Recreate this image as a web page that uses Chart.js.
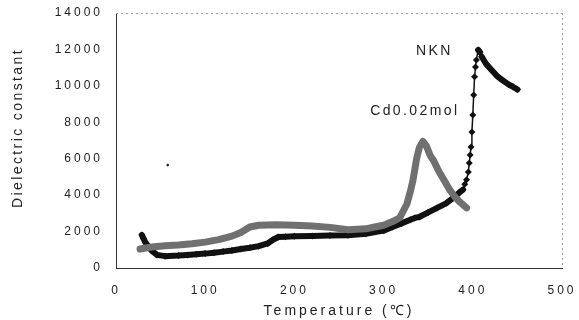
<!DOCTYPE html>
<html><head><meta charset="utf-8">
<script src="https://cdn.jsdelivr.net/npm/chart.js@4.4.0/dist/chart.umd.min.js"></script>
<style>html,body{margin:0;padding:0;background:#fff;}#wrap{width:579px;height:320px;}</style>
</head><body><div id="wrap"><canvas id="c" width="579" height="320"></canvas></div>
<script>
// ---- data ----
const nknTemp  = [29, 31, 33, 36, 40, 46, 55, 70, 80, 90, 100, 110, 120, 130, 140, 150, 160, 170, 176, 182, 190, 200, 220, 240, 260, 280, 300, 310, 320, 330, 335, 340, 350, 360, 370, 378, 385, 389, 391, 393, 395, 396, 397, 398, 399, 400, 401, 402, 403, 404, 406, 408, 410, 415, 421, 427, 433, 440, 445, 450];
const nknValue = [1810, 1600, 1400, 1200, 950, 720, 650, 680, 720, 760, 790, 840, 900, 960, 1040, 1110, 1200, 1350, 1550, 1700, 1720, 1740, 1760, 1780, 1800, 1880, 2050, 2250, 2450, 2650, 2750, 2800, 3050, 3300, 3550, 3850, 4150, 4300, 4600, 4850, 5270, 5760, 6200, 6650, 7470, 8400, 9500, 10500, 11040, 11420, 11970, 11850, 11600, 11200, 10870, 10550, 10320, 10080, 9950, 9800];
const cdTemp   = [27, 40, 55, 70, 85, 100, 115, 130, 140, 150, 160, 180, 200, 220, 240, 260, 280, 290, 300, 310, 318, 326, 330, 333, 337, 340, 344, 348, 352, 356, 362, 368, 374, 380, 386, 393];
const cdValue  = [1040, 1150, 1220, 1260, 1330, 1420, 1560, 1750, 1950, 2250, 2350, 2370, 2350, 2300, 2230, 2100, 2150, 2250, 2350, 2550, 2750, 3500, 4200, 4830, 6000, 6600, 6950, 6700, 6200, 5900, 5300, 4800, 4300, 3900, 3600, 3300];
const strayTemp  = [58];
const strayValue = [5650];
const xTicks = [0, 100, 200, 300, 400, 500];
const yTicks = [0, 2000, 4000, 6000, 8000, 10000, 12000, 14000];
const seriesLabels = ['NKN', 'Cd0.02mol'];
const xTitle = 'Temperature (\u2103)';
const yTitle = 'Dielectric constant';

const toPts = (xs, ys) => xs.map((x, i) => ({x: x, y: ys[i]}));
const FONT = "'Liberation Sans', Arial, sans-serif";

const stylePlugin = {
  id: 'style',
  beforeDraw(chart) { chart.ctx.letterSpacing = '3px'; },
  afterDraw(chart) {
    const ctx = chart.ctx, a = chart.chartArea;
    ctx.save();
    ctx.strokeStyle = '#9a9a9a'; ctx.lineWidth = 1; ctx.setLineDash([2, 3]);
    ctx.beginPath();
    ctx.moveTo(a.left, a.top + 0.5); ctx.lineTo(a.right, a.top + 0.5);
    ctx.moveTo(a.right + 0.5, a.top); ctx.lineTo(a.right + 0.5, a.bottom);
    ctx.stroke();
    ctx.setLineDash([]);
    ctx.letterSpacing = '2.4px';
    ctx.fillStyle = '#222';
    ctx.font = '14px ' + FONT;
    ctx.textAlign = 'center'; ctx.textBaseline = 'middle';
    ctx.translate(18, 128); ctx.rotate(-Math.PI / 2);
    ctx.fillText(yTitle, 0, 0);
    ctx.restore();
    ctx.save();
    ctx.letterSpacing = '2.4px';
    ctx.fillStyle = '#222';
    ctx.font = '14px ' + FONT;
    ctx.textAlign = 'center'; ctx.textBaseline = 'middle';
    const xs = chart.scales.x, ys = chart.scales.y;
    ctx.fillText(seriesLabels[0], xs.getPixelForValue(357), ys.getPixelForValue(11900));
    ctx.fillText(seriesLabels[1], xs.getPixelForValue(335), ys.getPixelForValue(8600));
    ctx.restore();
  }
};

new Chart(document.getElementById('c'), {
  type: 'scatter',
  data: {
    datasets: [
      {
        label: seriesLabels[1],
        data: toPts(cdTemp, cdValue),
        showLine: true,
        borderColor: '#707070',
        borderWidth: 7,
        pointRadius: 0,
        borderCapStyle: 'round',
        borderJoinStyle: 'round',
        tension: 0
      },
      {
        label: seriesLabels[0],
        data: toPts(nknTemp, nknValue),
        showLine: true,
        borderColor: '#111',
        backgroundColor: '#111',
        pointStyle: 'rectRot',
        pointRadius: 3.5,
        pointBorderWidth: 0,
        borderCapStyle: 'round',
        borderJoinStyle: 'round',
        segment: {
          borderWidth: ctx => {
            const dy = Math.abs(ctx.p1.parsed.y - ctx.p0.parsed.y);
            const dx = Math.abs(ctx.p1.parsed.x - ctx.p0.parsed.x) || 1;
            return dy / dx > 120 ? 1.5 : 6;
          }
        },
        tension: 0
      },
      {
        label: 'dot',
        data: toPts(strayTemp, strayValue),
        showLine: false,
        pointRadius: 1.3,
        backgroundColor: '#222',
        borderWidth: 0
      }
    ]
  },
  options: {
    responsive: false,
    animation: false,
    devicePixelRatio: 1,
    layout: { padding: { top: 13, right: 17, left: 0, bottom: 0 } },
    plugins: { legend: { display: false }, tooltip: { enabled: false } },
    scales: {
      x: {
        type: 'linear', min: 0, max: 500,
        afterBuildTicks: s => { s.ticks = xTicks.map(v => ({value: v})); },
        afterFit: s => { s.height = 52; s.paddingLeft = 0; s.paddingRight = 0; },
        grid: { display: false, drawTicks: false },
        border: { display: true, color: '#333', width: 1 },
        ticks: { color: '#222', font: { family: FONT, size: 12 }, padding: 15, maxRotation: 0,
                 callback: v => String(v) },
        title: { display: true, text: xTitle, color: '#222', font: { family: FONT, size: 14 }, padding: { top: 0, bottom: 0 } }
      },
      y: {
        type: 'linear', min: 0, max: 14000,
        afterBuildTicks: s => { s.ticks = yTicks.map(v => ({value: v})); },
        afterFit: s => { s.width = 116; s.paddingTop = 0; s.paddingBottom = 0; },
        grid: { display: false, drawTicks: false },
        border: { display: true, color: '#333', width: 1 },
        ticks: { color: '#222', font: { family: FONT, size: 12 }, padding: 13,
                 callback: v => String(v) }
      }
    }
  },
  plugins: [stylePlugin]
});
</script>
</body></html>
